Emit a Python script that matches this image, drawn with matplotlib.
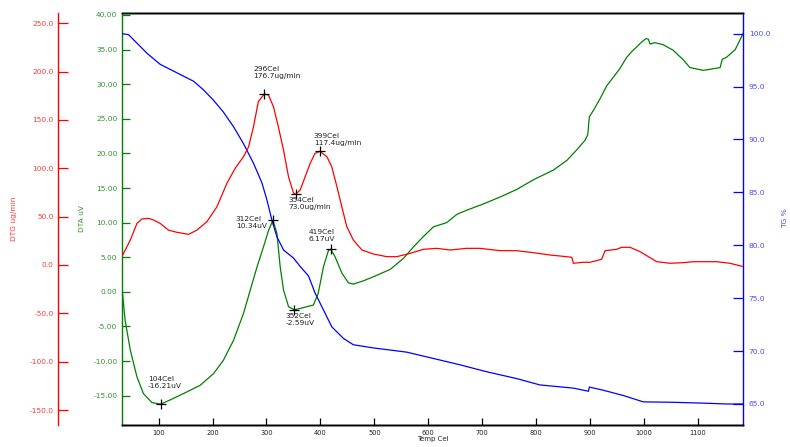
import matplotlib
matplotlib.use("Agg")
import matplotlib.pyplot as plt

# DTG (red), ug/min
dtg_t = [32, 47.6, 60, 69, 81.5, 90.7, 103, 118.5, 134, 155.6, 171, 189.7, 208, 226.7, 242,
         257.5, 266.8, 276, 285, 296, 303.8, 313, 322, 331.6, 341, 350, 354, 362.5, 381, 390,
         399, 412, 421, 430.6, 439.8, 449, 461, 477, 498, 523, 541.7, 566, 591, 615.8, 640.5,
         671, 696, 733, 764, 795, 826, 844, 866, 869, 887.5, 900, 921.5, 927.7, 949, 958.6,
         974, 992.5, 1023.5, 1048, 1073, 1091, 1134.6, 1159, 1184]
dtg_v = [8.6, 25.8, 43, 47.5, 48.2, 46.5, 43, 36, 33.8, 31.7, 36, 44.8, 60, 84.4, 100,
         112, 122, 143, 169, 176.7, 175.7, 163.6, 143, 118.9, 91, 74.7, 73.0, 77.5, 105, 115.4,
         117.4, 112, 101.6, 81, 60, 39.6, 25.8, 15.5, 11.4, 8.6, 8.6, 12, 16.2, 17.2, 15.5,
         17.2, 17.2, 14.8, 14.8, 12.7, 10.3, 9.3, 8, 1.8, 2.8, 2.8, 5.9, 14.8, 16.2, 18.3,
         18.3, 13.8, 3.4, 1.8, 2.4, 3.4, 3.4, 1.8, -1.7]

# DTA (green), uV
dta_t = [32, 38, 47.6, 60, 72, 87.8, 104, 121.7, 146, 177, 202, 220, 239, 257.5, 270, 282.5,
         294.5, 304, 312, 319.4, 325.5, 331.7, 341, 352, 362, 387, 396, 405.6, 415, 419, 427,
         440, 452, 461, 480, 504.7, 529.4, 554, 572.6, 591, 609.6, 634, 653, 671.4, 702, 733,
         764, 795, 832, 857, 875, 890.6, 895.6, 898.6, 906, 918.4, 931, 943, 955.5, 968, 977,
         986.5, 995.7, 1003.7, 1008, 1011, 1020, 1035.7, 1054, 1073, 1085, 1110, 1141, 1145,
         1153, 1169, 1184]
dta_v = [0.7, -4.1, -8.4, -12.3, -14.7, -16.0, -16.21, -15.6, -14.7, -13.5, -11.8, -9.9, -7.0,
         -3.1, 0.26, 3.6, 6.5, 8.9, 10.34, 8.45, 3.6, 0.26, -2.15, -2.59, -2.4, -1.9, -0.2, 3.6,
         6.0, 6.17, 5.1, 2.7, 1.3, 1.13, 1.6, 2.4, 3.25, 4.84, 6.5, 8.0, 9.4, 10.0, 11.2, 11.8,
         12.7, 13.7, 14.8, 16.2, 17.6, 19.0, 20.5, 21.9, 22.7, 25.3, 26.2, 27.9, 29.8, 31.0,
         32.3, 33.9, 34.7, 35.4, 36.1, 36.6, 36.5, 35.8, 36.0, 35.7, 34.9, 33.5, 32.4, 32.0,
         32.4, 33.6, 33.9, 35.0, 37.4]

# TG (blue), %
tg_t = [32, 44.4, 60, 78.5, 103, 134, 165, 183, 202, 220, 239, 257.5, 276, 291.6, 300.8, 310,
        319.4, 331.7, 350, 362.5, 378, 390, 405.6, 421, 442.7, 461, 498, 560, 609.6, 659, 708,
        764, 807, 869, 897, 898.6, 924.5, 961.6, 998.6, 1054, 1116, 1153, 1184]
tg_v = [100.0, 99.9, 99.1, 98.15, 97.1, 96.3, 95.5, 94.7, 93.7, 92.6, 91.2, 89.6, 87.75, 85.9,
        84.3, 82.4, 80.8, 79.55, 78.8, 78.0, 77.1, 75.5, 73.9, 72.3, 71.2, 70.6, 70.3, 69.9,
        69.3, 68.7, 68.05, 67.4, 66.8, 66.5, 66.2, 66.6, 66.3, 65.8, 65.2, 65.16, 65.07, 65.0,
        65.0]

# marked peaks: (temp, value, label, text offset in pixels)
dtg_peaks = [(296, 176.7, "296Cel\n176.7ug/min", (-11, 28)),
             (354, 73.0, "354Cel\n73.0ug/min", (-7, -3)),
             (399, 117.4, "399Cel\n117.4ug/min", (-6, 18))]
dta_peaks = [(104, -16.21, "104Cel\n-16.21uV", (-13, 28)),
             (312, 10.34, "312Cel\n10.34uV", (-37, 4)),
             (352, -2.59, "352Cel\n-2.59uV", (-9, -3)),
             (419, 6.17, "419Cel\n6.17uV", (-22, 20))]

RED, GREEN, BLUE = "#ff0000", "#008000", "#0000ff"
RED_T, GREEN_T, BLUE_T = "#ff3b3b", "#2f962f", "#4a4aff"

fig = plt.figure(figsize=(7.9, 4.47), dpi=100)
ax = fig.add_axes([0.1538, 0.0503, 0.7871, 0.9213])
ax_tg = ax.twinx()
ax_dtg = ax.twinx()

lw = 0.9
ax.plot(dta_t, dta_v, color=GREEN, lw=lw)
ax_tg.plot(tg_t, tg_v, color=BLUE, lw=lw)
ax_dtg.plot(dtg_t, dtg_v, color=RED, lw=lw)

ax.set_xlim(31.3, 1184)
ax.set_ylim(-19.16, 40.33)
ax_tg.set_ylim(63.06, 101.98)
ax_dtg.set_ylim(-164.9, 260.8)

ax.set_xticks(range(100, 1101, 100))
ax.set_yticks([-15, -10, -5, 0, 5, 10, 15, 20, 25, 30, 35, 40])
ax.set_yticklabels([f"{v:.2f}" for v in ax.get_yticks()])
ax_tg.set_yticks([65, 70, 75, 80, 85, 90, 95, 100])
ax_tg.set_yticklabels([f"{v:.1f}" for v in ax_tg.get_yticks()])
ax_dtg.set_yticks([-150, -100, -50, 0, 50, 100, 150, 200, 250])
ax_dtg.set_yticklabels([f"{v:.1f}" for v in ax_dtg.get_yticks()])

# spines
for a in (ax, ax_tg, ax_dtg):
    a.spines["top"].set_color("black")
ax.spines["left"].set_color(GREEN)
ax.spines["right"].set_visible(False)
ax_tg.spines["right"].set_color(BLUE)
ax_tg.spines["left"].set_visible(False)
ax_dtg.spines["right"].set_visible(False)
ax_dtg.spines["left"].set_visible(True)
ax_dtg.spines["left"].set_position(("axes", -0.1021))
ax_dtg.spines["left"].set_color(RED)
ax_dtg.yaxis.set_ticks_position("left")
for a in (ax, ax_tg, ax_dtg):
    for s in a.spines.values():
        s.set_linewidth(1.0)

ax.tick_params(axis="x", direction="in", length=5, width=0.9, labelsize=4.8, pad=4,
               colors="black", labelcolor="#222222")
ax.tick_params(axis="y", direction="in", length=6, width=0.9, labelsize=5.4, pad=3,
               color=GREEN, labelcolor=GREEN_T)
ax_tg.tick_params(axis="y", direction="in", length=7, width=0.9, labelsize=5.4, pad=4,
                  color=BLUE, labelcolor=BLUE_T)
ax_dtg.tick_params(axis="y", direction="in", length=7, width=0.9, labelsize=5.4, pad=3,
                   color=RED, labelcolor=RED_T)

ax.set_xlabel("Temp Cel", fontsize=5.0, color="#222222", labelpad=0)
ax.text(-0.0635, 0.5, "DTA uV", transform=ax.transAxes, rotation=90, ha="center",
        va="center", fontsize=5.4, color=GREEN_T)
ax.text(-0.173, 0.5, "DTG ug/min", transform=ax.transAxes, rotation=90, ha="center",
        va="center", fontsize=5.4, color=RED_T)
ax.text(1.067, 0.5, "TG %", transform=ax.transAxes, rotation=90, ha="center",
        va="center", fontsize=5.4, color=BLUE_T)

for t, v, label, off in dtg_peaks:
    ax_dtg.plot([t], [v], marker="+", color="black", ms=7, mew=0.9)
    ax_dtg.annotate(label, (t, v), xytext=off, textcoords="offset pixels",
                    ha="left", va="top", fontsize=5.4, color="#222222")
for t, v, label, off in dta_peaks:
    ax_dtg.plot([t], [ax_dtg.transData.inverted().transform(ax.transData.transform((t, v)))[1]],
                marker="+", color="black", ms=7, mew=0.9)
    ax_dtg.annotate(label, (t, v), xycoords=ax.transData, xytext=off, textcoords="offset pixels",
                    ha="left", va="top", fontsize=5.4, color="#222222")

fig.savefig("out.png", dpi=100)
